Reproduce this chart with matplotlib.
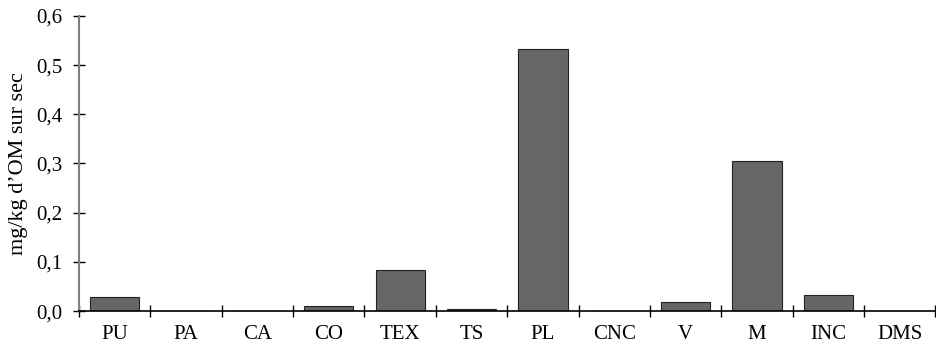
import matplotlib
matplotlib.use("Agg")
import matplotlib.pyplot as plt
from matplotlib.ticker import FuncFormatter, FixedLocator
import numpy as np

categories = ["PU", "PA", "CA", "CO", "TEX", "TS", "PL", "CNC", "V", "M", "INC", "DMS"]
values = [0.028, 0.0, 0.0, 0.010, 0.083, 0.004, 0.532, 0.0, 0.019, 0.305, 0.032, 0.0]
y_ticks = [0.0, 0.1, 0.2, 0.3, 0.4, 0.5, 0.6]

plt.rcParams['font.family'] = ['Liberation Serif', 'DejaVu Serif']

fig = plt.figure(figsize=(9.37, 3.46), dpi=100)
ax = fig.add_axes([0.0843, 0.101, 0.914, 0.853])

x = np.arange(len(categories))
ax.bar(x, values, width=0.69, color="#666666", edgecolor="#222222", linewidth=0.8)

ax.set_xlim(-0.5, len(categories) - 0.5)
ax.set_ylim(0, 0.6)

ax.set_xticks(x)
ax.set_xticklabels(categories, fontsize=15)
ax.tick_params(axis="x", which="major", length=0, pad=10)
ax.xaxis.set_minor_locator(FixedLocator(np.arange(-0.5, len(categories), 1.0)))
ax.tick_params(axis="x", which="minor", direction="inout", length=8, width=1)

ax.set_yticks(y_ticks)
ax.yaxis.set_major_formatter(FuncFormatter(lambda v, p: ("%.1f" % v).replace(".", ",")))
ax.tick_params(axis="y", direction="inout", length=8, width=1, labelsize=15, pad=8)
ax.set_ylabel("mg/kg d\u2019OM sur sec", fontsize=16, labelpad=6)

ax.spines["top"].set_visible(False)
ax.spines["right"].set_visible(False)
ax.spines["left"].set_color("#808080")
ax.spines["left"].set_linewidth(1.5)
ax.spines["bottom"].set_linewidth(1.2)

plt.savefig("out.png", dpi=100)
